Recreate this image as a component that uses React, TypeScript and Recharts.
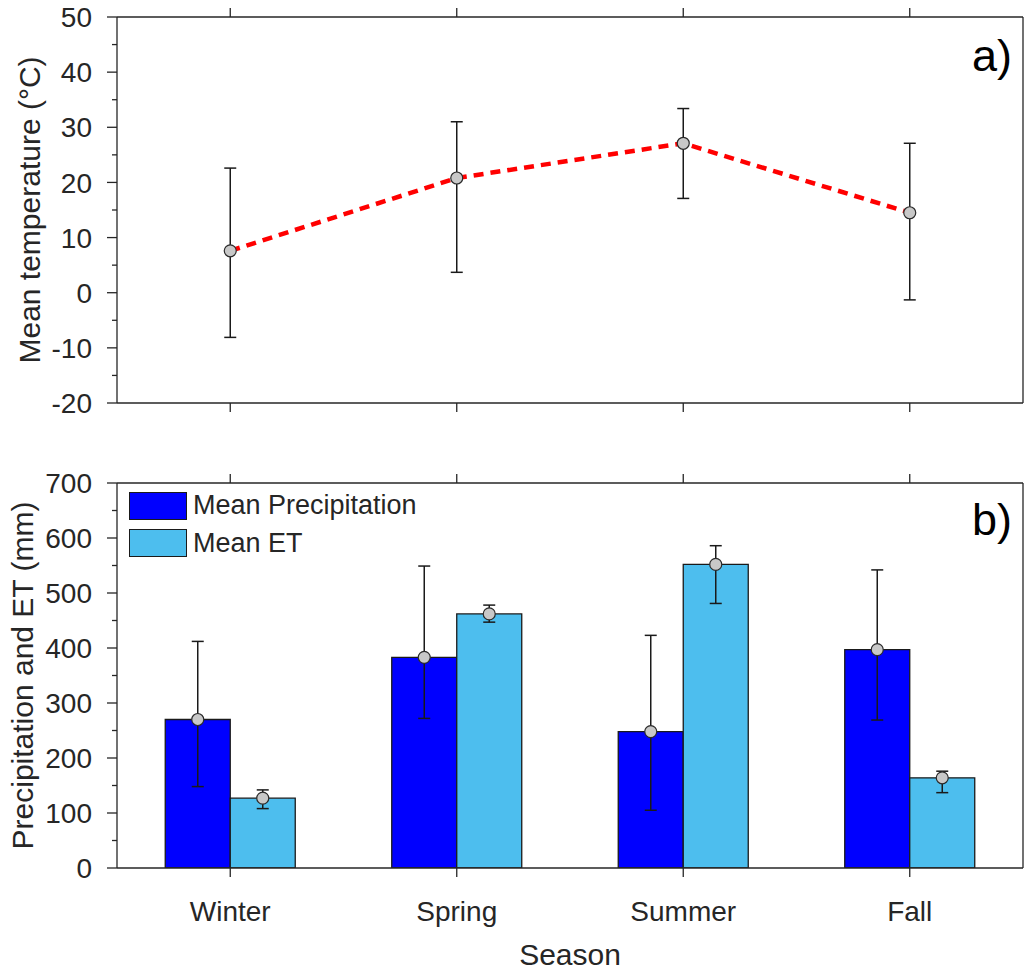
import React from 'react'
import {
  Bar,
  BarChart,
  ComposedChart,
  ErrorBar,
  LabelList,
  Legend,
  Line,
  XAxis,
  YAxis,
} from 'recharts'

const seasons = ['Winter', 'Spring', 'Summer', 'Fall']

// panel a) mean temperature with range
const tempMean = [7.6, 20.8, 27.1, 14.5]
const tempLow = [-8.1, 3.7, 17.1, -1.3]
const tempHigh = [22.6, 31.0, 33.4, 27.1]

// panel b) precipitation and ET
const precipMean = [270, 383, 248, 397]
const precipLow = [148, 272, 105, 269]
const precipHigh = [412, 549, 423, 542]

const etMean = [127, 462, 552, 164]
const etLow = [108, 447, 481, 137]
const etHigh = [142, 478, 586, 176]

const seriesNames = ['Mean Precipitation', 'Mean ET']

const tempTicks = [-20, -15, -10, -5, 0, 5, 10, 15, 20, 25, 30, 35, 40, 45, 50]
const waterTicks = [0, 50, 100, 150, 200, 250, 300, 350, 400, 450, 500, 550, 600, 650, 700]
const seasonPositions = [1, 2, 3, 4]

const AXIS = '#262626'
const FONT = "'Liberation Sans', Arial, sans-serif"
const PRECIP_COLOR = '#0000ff'
const ET_COLOR = '#4dbeee'

const tempData = seasons.map((season, i) => ({
  pos: i + 1,
  season,
  temp: tempMean[i],
  tempErr: [tempMean[i] - tempLow[i], tempHigh[i] - tempMean[i]],
}))

const waterData = seasons.map((season, i) => ({
  season,
  precip: precipMean[i],
  precipErr: [precipMean[i] - precipLow[i], precipHigh[i] - precipMean[i]],
  et: etMean[i],
  etErr: [etMean[i] - etLow[i], etHigh[i] - etMean[i]],
}))

// keeps the tick marks but draws no label
const NoLabel = () => <g />

function makeYTick(majorEvery: number) {
  return (props: any) => {
    const { x, y, payload } = props
    const v = payload.value
    const major = v % majorEvery === 0
    return (
      <g>
        <line x1={x} x2={x - (major ? 10 : 5)} y1={y} y2={y} stroke={AXIS} strokeWidth={1.3} />
        {major && (
          <text
            x={x - 25}
            y={y}
            dy="0.36em"
            textAnchor="end"
            fontSize={28}
            fill={AXIS}
            fontFamily={FONT}
          >
            {v}
          </text>
        )}
      </g>
    )
  }
}

const renderPoint = (props: any) => {
  const box = props.viewBox ?? props
  const cx = box.x + box.width / 2
  const cy = box.y
  return <circle cx={cx} cy={cy} r={6} fill="#c8c8c8" stroke="#2a2a2a" strokeWidth={1.2} />
}

const renderLegend = (props: any) => {
  const items = [...props.payload].sort(
    (a: any, b: any) => seriesNames.indexOf(a.value) - seriesNames.indexOf(b.value),
  )
  return (
    <div style={{ fontFamily: FONT }}>
      {items.map((entry: any) => (
        <div key={entry.value} style={{ display: 'flex', alignItems: 'center', height: 37.5 }}>
          <div
            style={{
              width: 58,
              height: 28,
              background: entry.color,
              border: '1.3px solid #1a1a1a',
              boxSizing: 'border-box',
            }}
          />
          <span style={{ marginLeft: 6, fontSize: 27, color: AXIS, lineHeight: 1 }}>{entry.value}</span>
        </div>
      ))}
    </div>
  )
}

const axisLine = { stroke: AXIS, strokeWidth: 1.3 }

function TemperaturePanel() {
  return (
    <ComposedChart width={1024} height={440} data={tempData} margin={{ top: 16, right: 0, bottom: 7, left: 0 }}>
      <XAxis
        dataKey="pos"
        type="number"
        domain={[0.5, 4.5]}
        ticks={seasonPositions}
        tick={NoLabel}
        tickSize={9}
        height={30}
        axisLine={axisLine}
        tickLine={axisLine}
        allowDataOverflow
      />
      <XAxis
        xAxisId="top"
        orientation="top"
        dataKey="pos"
        type="number"
        domain={[0.5, 4.5]}
        ticks={seasonPositions}
        tick={NoLabel}
        tickSize={9}
        height={1}
        axisLine={axisLine}
        tickLine={axisLine}
        allowDataOverflow
      />
      <YAxis
        domain={[-20, 50]}
        ticks={tempTicks}
        interval={0}
        width={117}
        tickSize={0}
        tickMargin={0}
        tickLine={false}
        tick={makeYTick(10)}
        axisLine={axisLine}
        allowDataOverflow
        label={{
          value: 'Mean temperature (°C)',
          angle: -90,
          position: 'insideLeft',
          offset: 29,
          style: { textAnchor: 'middle', fontSize: 30, fill: AXIS, fontFamily: FONT },
        }}
      />
      <YAxis
        yAxisId="right"
        orientation="right"
        domain={[-20, 50]}
        width={1}
        tick={false}
        tickLine={false}
        axisLine={axisLine}
        allowDataOverflow
      />
      <Line
        dataKey="temp"
        type="linear"
        stroke="#ff0000"
        strokeWidth={4.5}
        strokeDasharray="10 7"
        dot={{ r: 6, fill: '#c8c8c8', stroke: '#2a2a2a', strokeWidth: 1.2, strokeDasharray: 'none' }}
        isAnimationActive={false}
      >
        <ErrorBar dataKey="tempErr" width={6} stroke="#1a1a1a" strokeWidth={1.5} />
      </Line>
    </ComposedChart>
  )
}

function WaterPanel() {
  return (
    <BarChart
      width={1024}
      height={532}
      data={waterData}
      margin={{ top: 42, right: 0, bottom: 0, left: 0 }}
      barCategoryGap="21.3%"
      barGap={0}
    >
      <XAxis
        dataKey="season"
        interval={0}
        tickSize={9}
        tickMargin={24}
        height={104}
        axisLine={axisLine}
        tickLine={axisLine}
        tick={{ fontSize: 28, fill: AXIS, fontFamily: FONT }}
        label={{
          value: 'Season',
          position: 'insideBottom',
          offset: 7,
          style: { fontSize: 30, fill: AXIS, fontFamily: FONT },
        }}
      />
      <XAxis
        xAxisId="top"
        orientation="top"
        dataKey="season"
        interval={0}
        tick={NoLabel}
        tickSize={9}
        height={1}
        axisLine={axisLine}
        tickLine={axisLine}
      />
      <YAxis
        domain={[0, 700]}
        ticks={waterTicks}
        interval={0}
        width={117}
        tickSize={0}
        tickMargin={0}
        tickLine={false}
        tick={makeYTick(100)}
        axisLine={axisLine}
        allowDataOverflow
        label={{
          value: 'Precipitation and ET (mm)',
          angle: -90,
          position: 'insideLeft',
          offset: 22,
          style: { textAnchor: 'middle', fontSize: 30, fill: AXIS, fontFamily: FONT },
        }}
      />
      <YAxis
        yAxisId="right"
        orientation="right"
        domain={[0, 700]}
        width={1}
        tick={false}
        tickLine={false}
        axisLine={axisLine}
        allowDataOverflow
      />
      <Legend
        layout="vertical"
        align="center"
        verticalAlign="middle"
        content={renderLegend}
        wrapperStyle={{ left: 129, top: 47, width: 400, height: 80 }}
      />
      <Bar
        dataKey="precip"
        name={seriesNames[0]}
        fill={PRECIP_COLOR}
        stroke="#1a1a1a"
        strokeWidth={1.3}
        isAnimationActive={false}
      >
        <ErrorBar dataKey="precipErr" width={6} stroke="#1a1a1a" strokeWidth={1.5} />
        <LabelList dataKey="precip" content={renderPoint} />
      </Bar>
      <Bar
        dataKey="et"
        name={seriesNames[1]}
        fill={ET_COLOR}
        stroke="#1a1a1a"
        strokeWidth={1.3}
        isAnimationActive={false}
      >
        <ErrorBar dataKey="etErr" width={6} stroke="#1a1a1a" strokeWidth={1.5} />
        <LabelList dataKey="et" content={renderPoint} />
      </Bar>
    </BarChart>
  )
}

export default function App() {
  return (
    <div
      style={{
        position: 'absolute',
        left: 0,
        top: 0,
        width: 1024,
        height: 972,
        background: '#fff',
        fontFamily: FONT,
      }}
    >
      <div style={{ position: 'absolute', left: 0, top: 0 }}>
        <TemperaturePanel />
      </div>
      <div style={{ position: 'absolute', left: 0, top: 440 }}>
        <WaterPanel />
      </div>
      <svg
        width={1024}
        height={972}
        style={{ position: 'absolute', left: 0, top: 0, pointerEvents: 'none' }}
      >
        <text x={1012} y={71} textAnchor="end" fontSize={45} fill="#000" fontFamily={FONT}>
          a)
        </text>
        <text x={1012} y={535} textAnchor="end" fontSize={45} fill="#000" fontFamily={FONT}>
          b)
        </text>
      </svg>
    </div>
  )
}
